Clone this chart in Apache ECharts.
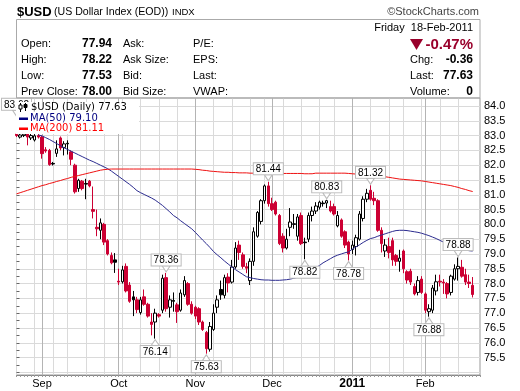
<!DOCTYPE html>
<html><head><meta charset="utf-8">
<script src="https://cdn.jsdelivr.net/npm/echarts@6/dist/echarts.min.js"></script>
<style>html,body{margin:0;padding:0;background:#fff}#c{width:520px;height:391px}</style>
</head><body><div id="c"></div>
<script>
const dates = [
 '2010-08-23','2010-08-24','2010-08-25','2010-08-26','2010-08-27','2010-08-30','2010-08-31',
 '2010-09-01','2010-09-02','2010-09-03','2010-09-07','2010-09-08','2010-09-09','2010-09-10','2010-09-13','2010-09-14','2010-09-15','2010-09-16','2010-09-17','2010-09-20','2010-09-21','2010-09-22','2010-09-23','2010-09-24','2010-09-27','2010-09-28','2010-09-29','2010-09-30',
 '2010-10-01','2010-10-04','2010-10-05','2010-10-06','2010-10-07','2010-10-08','2010-10-11','2010-10-12','2010-10-13','2010-10-14','2010-10-15','2010-10-18','2010-10-19','2010-10-20','2010-10-21','2010-10-22','2010-10-25','2010-10-26','2010-10-27','2010-10-28','2010-10-29',
 '2010-11-01','2010-11-02','2010-11-03','2010-11-04','2010-11-05','2010-11-08','2010-11-09','2010-11-10','2010-11-11','2010-11-12','2010-11-15','2010-11-16','2010-11-17','2010-11-18','2010-11-19','2010-11-22','2010-11-23','2010-11-24','2010-11-26','2010-11-29','2010-11-30',
 '2010-12-01','2010-12-02','2010-12-03','2010-12-06','2010-12-07','2010-12-08','2010-12-09','2010-12-10','2010-12-13','2010-12-14','2010-12-15','2010-12-16','2010-12-17','2010-12-20','2010-12-21','2010-12-22','2010-12-23','2010-12-27','2010-12-28','2010-12-29','2010-12-30','2010-12-31',
 '2011-01-03','2011-01-04','2011-01-05','2011-01-06','2011-01-07','2011-01-10','2011-01-11','2011-01-12','2011-01-13','2011-01-14','2011-01-18','2011-01-19','2011-01-20','2011-01-21','2011-01-24','2011-01-25','2011-01-26','2011-01-27','2011-01-28','2011-01-31',
 '2011-02-01','2011-02-02','2011-02-03','2011-02-04','2011-02-07','2011-02-08','2011-02-09','2011-02-10','2011-02-11','2011-02-14','2011-02-15','2011-02-16','2011-02-17','2011-02-18'
];
const open = [
 83.05,82.95,83.00,83.05,82.92,82.85,83.00,82.95,82.52,82.50,
 82.04,82.40,82.92,82.60,82.74,82.45,82.00,81.21,81.46,81.36,
 81.46,80.50,79.90,79.80,80.00,79.45,78.95,78.80,78.08,78.06,
 78.58,77.95,77.55,77.45,77.02,77.55,77.30,76.70,76.70,76.95,
 77.10,78.20,77.20,77.40,77.28,77.10,77.62,78.00,77.30,77.20,
 77.15,76.70,76.35,75.78,76.45,77.20,77.80,77.60,78.22,78.05,
 78.56,79.30,78.97,78.57,78.10,78.75,79.60,80.10,80.80,81.30,
 80.70,80.75,80.30,79.60,79.20,79.90,80.00,79.60,80.30,79.38,
 79.50,80.30,80.45,80.58,80.70,80.72,80.60,80.60,79.95,80.15,
 79.75,79.40,79.15,79.25,79.50,80.20,80.85,81.15,80.88,80.80,
 79.80,79.10,79.25,79.45,78.95,78.75,79.10,78.40,78.42,77.90,
 77.70,78.15,77.65,77.05,77.10,77.75,78.08,78.05,78.00,77.70,
 78.15,78.50,78.55,78.30,78.05,77.94
];
const high = [
 83.62,83.10,83.15,83.10,83.10,83.05,83.05,83.00,82.61,82.55,
 82.11,82.84,82.97,82.81,82.84,82.50,82.05,81.54,81.50,81.54,
 81.50,81.28,80.50,80.20,80.05,79.50,79.05,79.03,78.50,78.60,
 78.68,78.05,77.75,77.55,77.55,77.80,77.35,77.00,77.15,77.00,
 78.30,78.36,77.60,77.70,77.35,77.80,78.25,78.05,77.40,77.25,
 77.20,76.75,76.40,76.70,77.30,77.60,78.10,78.30,78.35,78.80,
 79.40,79.45,79.05,78.70,78.85,79.90,80.45,80.85,81.35,81.44,
 80.90,80.80,80.35,79.70,79.85,80.55,80.35,80.35,80.40,79.55,
 80.40,80.60,80.75,80.80,80.80,80.83,80.80,80.70,80.45,80.20,
 79.80,79.45,79.45,79.65,80.45,80.95,81.20,81.32,81.10,80.85,
 79.90,79.50,79.55,79.55,79.00,79.14,79.15,78.45,78.50,78.00,
 78.25,78.25,77.70,77.30,77.95,78.30,78.30,78.15,78.05,78.30,
 78.65,78.88,78.80,78.50,78.30,78.22
];
const low = [
 82.95,82.90,82.95,82.67,82.85,82.80,82.90,82.22,82.42,81.98,
 81.99,82.28,82.50,82.33,82.36,82.00,81.04,81.10,81.15,80.85,
 81.25,80.20,79.60,79.50,79.30,78.95,78.65,78.36,77.95,78.00,
 77.70,77.35,76.90,77.00,76.95,77.25,76.85,76.25,76.14,76.85,
 77.00,77.05,76.85,77.05,76.67,77.05,77.55,77.25,76.95,76.80,
 76.60,76.40,75.63,75.70,76.40,77.00,77.45,77.50,77.70,78.00,
 78.50,78.80,78.50,78.35,77.95,78.60,79.55,80.00,80.70,80.60,
 80.45,80.30,79.30,79.05,79.15,79.60,79.85,79.45,79.30,78.82,
 79.40,80.10,80.35,80.50,80.60,80.55,80.40,80.30,79.90,79.55,
 79.20,78.78,79.00,78.95,79.45,80.10,80.75,80.80,80.65,79.75,
 79.05,78.90,78.85,78.60,78.60,78.40,78.35,78.00,77.95,77.60,
 77.60,77.65,77.00,76.88,77.00,77.60,77.90,77.65,77.50,77.60,
 78.10,78.10,78.20,77.95,77.85,77.53
];
const close = [
 83.00,83.02,83.05,82.95,83.00,82.99,82.95,82.39,82.48,82.02,
 82.06,82.55,82.58,82.72,82.72,82.20,81.10,81.49,81.21,81.38,
 81.30,80.44,79.85,80.05,79.40,79.00,78.70,78.72,78.05,78.46,
 77.75,77.40,77.45,77.12,77.45,77.30,76.90,76.62,77.00,76.90,
 78.18,77.15,77.45,77.43,77.05,77.68,78.10,77.30,77.00,76.90,
 76.70,76.45,75.80,76.55,77.00,77.45,77.62,78.20,78.02,78.56,
 79.20,79.05,78.58,78.52,78.75,79.75,80.40,80.80,81.30,80.70,
 80.50,80.35,79.35,79.20,79.50,80.08,80.02,80.25,79.35,79.40,
 80.30,80.45,80.62,80.75,80.72,80.80,80.45,80.35,80.30,79.60,
 79.30,79.00,79.30,79.55,80.35,80.85,81.05,80.85,80.80,79.80,
 79.35,79.30,79.05,78.80,78.75,78.86,78.50,78.12,78.05,77.65,
 78.10,77.70,77.10,77.15,77.85,78.06,78.05,78.02,77.65,78.25,
 78.50,78.58,78.25,78.05,78.00,77.63
];
const ma50 = [
 null,null,null,null,null,null,83.02,82.99,82.93,82.87,
 82.80,82.73,82.66,82.59,82.53,82.47,82.41,82.35,82.29,82.23,
 82.17,82.12,82.06,82.00,81.94,81.88,81.80,81.71,81.62,81.53,
 81.44,81.35,81.25,81.14,81.07,81.01,80.95,80.89,80.82,80.73,
 80.64,80.53,80.42,80.30,80.22,80.12,80.03,79.94,79.85,79.73,
 79.60,79.47,79.35,79.22,79.08,78.97,78.87,78.76,78.66,78.56,
 78.47,78.39,78.31,78.23,78.20,78.17,78.15,78.13,78.12,78.12,
 78.11,78.11,78.11,78.12,78.13,78.15,78.18,78.21,78.25,78.29,
 78.36,78.44,78.53,78.61,78.70,78.77,78.84,78.91,78.96,79.00,
 79.04,79.07,79.16,79.24,79.31,79.39,79.46,79.52,79.55,79.60,
 79.64,79.68,79.72,79.76,79.79,79.80,79.80,79.79,79.77,79.75,
 79.73,79.70,79.66,79.62,79.57,79.52,79.46,79.40,79.34,79.29,
 79.25,79.21,79.17,79.14,79.11,79.10
];
const ma200 = [
 81.03,81.07,81.11,81.15,81.19,81.23,81.27,81.31,81.34,81.38,
 81.41,81.45,81.48,81.52,81.55,81.59,81.62,81.65,81.68,81.71,
 81.74,81.77,81.80,81.83,81.85,81.86,81.87,81.87,81.87,81.87,
 81.87,81.87,81.87,81.87,81.87,81.87,81.87,81.87,81.87,81.87,
 81.87,81.87,81.87,81.87,81.87,81.87,81.87,81.87,81.87,81.86,
 81.85,81.83,81.82,81.80,81.79,81.78,81.77,81.76,81.76,81.75,
 81.75,81.74,81.74,81.74,81.73,81.73,81.72,81.72,81.72,81.72,
 81.72,81.72,81.72,81.72,81.72,81.72,81.72,81.72,81.72,81.71,
 81.71,81.71,81.73,81.73,81.73,81.73,81.73,81.73,81.73,81.73,
 81.73,81.72,81.71,81.70,81.69,81.68,81.67,81.66,81.65,81.64,
 81.63,81.61,81.59,81.57,81.55,81.53,81.52,81.51,81.50,81.49,
 81.48,81.47,81.45,81.43,81.41,81.39,81.37,81.35,81.33,81.31,
 81.28,81.25,81.21,81.18,81.14,81.11
];
const blackFilled = [10,14,19,27,32,43,56,76,79,84];
const highMarks = [0,41,69,85,97,121];
const lowMarks = [38,52,79,91,113];
const monthNames = ['Jan','Feb','Mar','Apr','May','Jun','Jul','Aug','Sep','Oct','Nov','Dec'];
const yLabelMin = 75, yLabelMax = 84, yLabelStep = 0.5;

const FONT = '"Liberation Sans", Arial, sans-serif';
const cats = dates.concat(['pad1','pad2']);
const dObj = dates.map(s => new Date(s + 'T00:00:00Z'));
const isMonthStart = cats.map((c, i) => i > 0 && i < dates.length && dObj[i].getUTCMonth() !== dObj[i-1].getUTCMonth());
const isWeekStart = cats.map((c, i) => i < dates.length && (i === 0 || dObj[i].getUTCDay() < dObj[i-1].getUTCDay()));

const candleData = dates.map((d, i) => {
  const v = [open[i], close[i], low[i], high[i]];
  if (blackFilled.indexOf(i) >= 0) {
    return { value: v, itemStyle: { color: '#000', color0: '#000', borderColor: '#000', borderColor0: '#000' } };
  }
  return v;
});

const downTri = 'path://M0,0L8,0L4,6Z';
const upTri = 'path://M4,0L8,6L0,6Z';
const markLabel = { show: true, formatter: '{c}', color: '#000', fontSize: 10, fontFamily: FONT,
  backgroundColor: '#fff', borderColor: '#bbb', borderWidth: 1, padding: [1, 2, 0, 2], lineHeight: 10, distance: 0 };
const marks = [];
highMarks.forEach(i => marks.push({ coord: [cats[i], high[i]], value: high[i].toFixed(2), symbol: downTri,
  symbolSize: [8, 6], symbolOffset: [0, -4], label: Object.assign({}, markLabel, { position: 'top' }) }));
lowMarks.forEach(i => marks.push({ coord: [cats[i], low[i]], value: low[i].toFixed(2), symbol: upTri,
  symbolSize: [8, 6], symbolOffset: [0, 4], label: Object.assign({}, markLabel, { position: 'bottom' }) }));

function T(text, x, y, o) {
  o = o || {};
  const al = o.align || 'left';
  return { type: 'text', x: x, y: y, z: o.z || 50, silent: true,
    style: { text: text, fill: o.color || '#000', font: o.font || ('11px ' + FONT),
      align: al, textAlign: al, verticalAlign: 'middle', textVerticalAlign: 'middle' } };
}
const lastIdx = dates.length - 1;
const lab = '11px ' + FONT, val = 'bold 12px ' + FONT;
const DF = '10px "DejaVu Sans", sans-serif';
const graphics = [
  { type: 'rect', shape: { x: 16.5, y: 19.5, width: 463.5, height: 78.5 }, style: { fill: 'none', stroke: '#aaa', lineWidth: 1 }, z: 40, silent: true },
  T('$USD', 17, 12, { font: 'bold 13px ' + FONT }),
  T('(US Dollar Index (EOD))', 54, 12.5, { font: '10.6px ' + FONT }),
  T('INDX', 172, 12.5, { font: '9.5px ' + FONT }),
  T('\u00A9StockCharts.com', 479, 12, { font: '11px ' + FONT, color: '#444', align: 'right' }),
  T('Friday  18-Feb-2011', 473, 28, { font: lab, align: 'right' }),
  T('Open:', 21, 44, { font: lab }), T(open[lastIdx].toFixed(2), 112, 44, { font: val, align: 'right' }),
  T('High:', 21, 60, { font: lab }), T(high[lastIdx].toFixed(2), 112, 60, { font: val, align: 'right' }),
  T('Low:', 21, 76, { font: lab }), T(low[lastIdx].toFixed(2), 112, 76, { font: val, align: 'right' }),
  T('Prev Close:', 21, 92, { font: lab }), T(close[lastIdx - 1].toFixed(2), 112, 92, { font: val, align: 'right' }),
  T('Ask:', 123, 44, { font: lab }), T('Ask Size:', 123, 60, { font: lab }),
  T('Bid:', 123, 76, { font: lab }), T('Bid Size:', 123, 92, { font: lab }),
  T('P/E:', 193, 44, { font: lab }), T('EPS:', 193, 60, { font: lab }),
  T('Last:', 193, 76, { font: lab }), T('VWAP:', 193, 92, { font: lab }),
  { type: 'polygon', shape: { points: [[410, 39], [423, 39], [416.5, 50]] }, style: { fill: '#99002b' }, z: 50, silent: true },
  T('-0.47%', 473, 44.5, { font: 'bold 15px ' + FONT, color: '#99002b', align: 'right' }),
  T('Chg:', 410, 60, { font: lab }), T('-0.36', 473, 60, { font: val, align: 'right' }),
  T('Last:', 410, 76, { font: lab }), T(close[lastIdx].toFixed(2), 473, 76, { font: val, align: 'right' }),
  T('Volume:', 410, 92, { font: lab }), T('0', 473, 92, { font: val, align: 'right' }),
  // legend
  { type: 'rect', shape: { x: 16, y: 102, width: 123, height: 32 }, style: { fill: '#fff' }, z: 100, silent: true },
  { type: 'line', shape: { x1: 20.5, y1: 103, x2: 20.5, y2: 112 }, style: { stroke: '#000', lineWidth: 1 }, z: 101, silent: true },
  { type: 'rect', shape: { x: 19, y: 105, width: 3, height: 4 }, style: { fill: '#fff', stroke: '#000', lineWidth: 1 }, z: 102, silent: true },
  { type: 'line', shape: { x1: 25.5, y1: 103, x2: 25.5, y2: 111 }, style: { stroke: '#000', lineWidth: 1 }, z: 101, silent: true },
  { type: 'rect', shape: { x: 24, y: 104.5, width: 3, height: 3 }, style: { fill: '#000', stroke: '#000', lineWidth: 1 }, z: 102, silent: true },
  T('$USD (Daily) ' + close[lastIdx].toFixed(2), 31, 107.5, { font: DF, z: 103 }),
  { type: 'rect', shape: { x: 19, y: 117.5, width: 9, height: 2.5 }, style: { fill: '#000080' }, z: 101, silent: true },
  T('MA(50) ' + ma50[lastIdx].toFixed(2), 30, 118.5, { font: DF, color: '#000080', z: 103 }),
  { type: 'rect', shape: { x: 19, y: 127.5, width: 9, height: 2.5 }, style: { fill: '#ff0000' }, z: 101, silent: true },
  T('MA(200) ' + ma200[lastIdx].toFixed(2), 30, 128.5, { font: DF, color: '#ff0000', z: 103 })
];

const chart = echarts.init(document.getElementById('c'), null, { renderer: 'canvas' });
chart.setOption({
  animation: false,
  backgroundColor: '#fff',
  grid: [
    { left: 16.5, right: 40, top: 98, bottom: 16, show: true, borderColor: '#999', borderWidth: 1, backgroundColor: 'transparent' },
    { left: 16.5, right: 40, top: 106, bottom: 18.6 }
  ],
  xAxis: [
    { type: 'category', gridIndex: 0, data: cats, boundaryGap: false,
      axisLine: { show: true, lineStyle: { color: '#888' } },
      axisTick: { show: true, interval: 0, length: 2, lineStyle: { color: '#999' } },
      axisLabel: { interval: (i) => isMonthStart[i], margin: 3, fontSize: 11, fontFamily: FONT, color: '#000',
        formatter: (v, i) => { const d = new Date(v + 'T00:00:00Z'); const m = d.getUTCMonth();
          return m === 0 ? '{b|' + d.getUTCFullYear() + '}' : monthNames[m]; },
        rich: { b: { fontWeight: 'bold', fontSize: 12, fontFamily: FONT, color: '#000' } } },
      splitLine: { show: true, interval: (i) => isWeekStart[i] && !isMonthStart[i], lineStyle: { color: '#dadada', width: 1 } } },
    { type: 'category', gridIndex: 0, data: cats, boundaryGap: false, position: 'top',
      axisLine: { show: false }, axisTick: { show: false }, axisLabel: { show: false },
      splitLine: { show: true, interval: (i) => isMonthStart[i], lineStyle: { color: '#b4b4b4', width: 1 } } },
    { type: 'value', gridIndex: 1, show: false, min: 0, max: 1 }
  ],
  yAxis: [
    { type: 'value', gridIndex: 0, min: 74.91, max: 84.27, show: false, splitLine: { show: false } },
    { type: 'value', gridIndex: 1, min: yLabelMin, max: yLabelMax, interval: yLabelStep, position: 'right',
      axisLine: { show: false },
      axisTick: { show: true, length: 3, lineStyle: { color: '#666' } },
      minorTick: { show: true, splitNumber: 2, length: 3, lineStyle: { color: '#666' } },
      axisLabel: { margin: 4, fontSize: 11, fontFamily: FONT, color: '#000',
        formatter: (v) => v === yLabelMin ? '' : v.toFixed(1) },
      splitLine: { show: true, lineStyle: { color: '#dadada', width: 1 } } }
  ],
  series: [
    { name: '$USD', type: 'candlestick', xAxisIndex: 0, yAxisIndex: 0, data: candleData, barWidth: 3, z: 2,
      itemStyle: { color: '#fff', color0: '#cc0033', borderColor: '#000', borderColor0: '#cc0033', borderWidth: 1 },
      markPoint: { animation: false, data: marks, itemStyle: { color: '#fff', borderColor: '#bbb', borderWidth: 1 }, label: markLabel } },
    { name: 'MA(50)', type: 'line', xAxisIndex: 0, yAxisIndex: 0, data: ma50, symbol: 'none', z: 3,
      lineStyle: { color: '#2b2b8f', width: 1 } },
    { name: 'MA(200)', type: 'line', xAxisIndex: 0, yAxisIndex: 0, data: ma200, symbol: 'none', z: 3,
      lineStyle: { color: '#ee1111', width: 1 } }
  ],
  graphic: { elements: graphics }
});
</script>
</body></html>
